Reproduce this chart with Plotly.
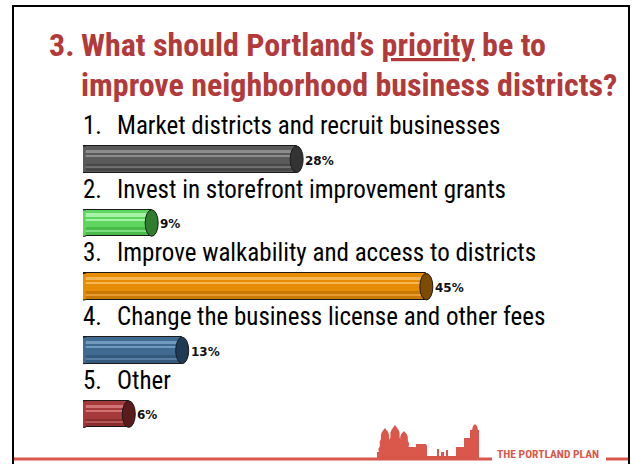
import plotly.graph_objects as go

# ---------------- data ----------------
numbers = ["1.", "2.", "3.", "4.", "5."]
labels = [
    "Market districts and recruit businesses",
    "Invest in storefront improvement grants",
    "Improve walkability and access to districts",
    "Change the business license and other fees",
    "Other",
]
values = [28, 9, 45, 13, 6]
value_text = ["28%", "9%", "45%", "13%", "6%"]

title_num = "3."
title_line1 = "What should Portland\u2019s <u>priority</u> be to"
title_line2 = "improve neighborhood business districts?"
brand = "THE PORTLAND PLAN"

# ---------------- styles ----------------
W, H = 632, 464
body_cols = ["#5a5a5a", "#5fd65f", "#e68c05", "#3f6a92", "#a63939"]
hi_cols = ["#8c8c8c", "#a6f2a6", "#f8b653", "#7199be", "#d27373"]
dark_cols = ["#474747", "#48bb48", "#c97800", "#33597c", "#8a2d2d"]
cap_cols = ["#333333", "#2f7d2f", "#7d4c00", "#1f3a55", "#5c1b1b"]
outline = "#1a1a1a"
red = "#b23a3a"
brand_red = "#d9574b"
NARROW = "Roboto Condensed, DejaVu Sans Condensed, sans-serif"

X0_PX, PX_PER = 83.0, 7.63
XMAX = 70
Y_TOP_PX, Y_STEP = 159.3, 63.7
BW = 0.416
CAP_HALF = 6.5 / PX_PER

def px(x, y):
    return x / W, 1 - y / H

idx = list(range(len(values)))
fig = go.Figure()

# cylinder bodies
fig.add_trace(go.Bar(
    x=values, y=idx, orientation="h", width=BW,
    marker=dict(color=body_cols, line=dict(color=outline, width=1)),
    hoverinfo="skip", showlegend=False))
# highlight stripes and shading bands
fig.add_trace(go.Bar(x=values, y=idx, orientation="h", width=0.05, offset=-0.15,
                     marker=dict(color=hi_cols, line=dict(width=0)), hoverinfo="skip", showlegend=False))
fig.add_trace(go.Bar(x=values, y=idx, orientation="h", width=0.025, offset=-0.06,
                     marker=dict(color=hi_cols, line=dict(width=0)), hoverinfo="skip", showlegend=False))
fig.add_trace(go.Bar(x=values, y=idx, orientation="h", width=0.12, offset=0.07,
                     marker=dict(color=dark_cols, line=dict(width=0)), hoverinfo="skip", showlegend=False))
fig.add_trace(go.Bar(x=values, y=idx, orientation="h", width=0.02, offset=0.12,
                     marker=dict(color=hi_cols, line=dict(width=0)), opacity=0.6,
                     hoverinfo="skip", showlegend=False))

shapes = []
annotations = []
for i, v in enumerate(values):
    top, bot = i - BW / 2, i + BW / 2
    k = CAP_HALF * 1.33
    # rounded left end
    shapes.append(dict(
        type="path", xref="x", yref="y", layer="above",
        path=f"M 0.35,{top} L 0,{top} C {-k},{top} {-k},{bot} 0,{bot} L 0.35,{bot}",
        fillcolor=body_cols[i], line=dict(color=outline, width=1)))
    # right end cap
    shapes.append(dict(
        type="circle", xref="x", yref="y", layer="above",
        x0=v - CAP_HALF, x1=v + CAP_HALF, y0=top, y1=bot,
        fillcolor=cap_cols[i], line=dict(color=outline, width=1)))
    annotations.append(dict(
        x=v + CAP_HALF, y=i + 0.02, xref="x", yref="y",
        text=f"<b>{value_text[i]}</b>", showarrow=False, xanchor="left", yanchor="middle",
        font=dict(family="DejaVu Sans", size=12, color="#111111")))
    annotations.append(dict(
        x=81 / W, y=i - 0.53, xref="paper", yref="y", text=numbers[i],
        showarrow=False, xanchor="left", yanchor="middle",
        font=dict(family=NARROW, size=25, color="#000000")))
    annotations.append(dict(
        x=115 / W, y=i - 0.53, xref="paper", yref="y", text=labels[i],
        showarrow=False, xanchor="left", yanchor="middle",
        font=dict(family=NARROW, size=25, color="#000000")))

# title
for txt, xx, yy in [(title_num, 47, 45), (title_line1, 79, 45), (title_line2, 79, 85)]:
    annotations.append(dict(
        x=xx / W, y=1 - yy / H, xref="paper", yref="paper", text=f"<b>{txt}</b>",
        showarrow=False, xanchor="left", yanchor="middle",
        font=dict(family=NARROW, size=32, color=red)))

# brand text
annotations.append(dict(
    x=495 / W, y=1 - 453.5 / H, xref="paper", yref="paper", text=f"<b>{brand}</b>",
    showarrow=False, xanchor="left", yanchor="middle",
    font=dict(family=NARROW, size=11.5, color=brand_red)))

# frame
for (xa, ya, xb, yb) in [(12, 6, 630, 6), (13, 6, 13, 464), (629, 6, 629, 464)]:
    a, b = px(xa, ya), px(xb, yb)
    shapes.append(dict(type="line", xref="paper", yref="paper", x0=a[0], y0=a[1], x1=b[0], y1=b[1],
                       line=dict(color="#000000", width=2)))
# bottom red line
for (xa, xb) in [(14, 492), (606, 628)]:
    a, b = px(xa, 459), px(xb, 459)
    shapes.append(dict(type="line", xref="paper", yref="paper", x0=a[0], y0=a[1], x1=b[0], y1=b[1],
                       line=dict(color=brand_red, width=3)))

# skyline silhouette (decorative)
def poly(points):
    pts = [px(x, y) for x, y in points]
    d = "M " + " L ".join(f"{x:.5f},{y:.5f}" for x, y in pts) + " Z"
    return dict(type="path", xref="paper", yref="paper", path=d, fillcolor=brand_red,
                line=dict(width=0), layer="above")

def tree(cx, top, base, half):
    pts = [(cx - 1, base)]
    steps = 4
    for s in range(steps, 0, -1):
        yy = top + (base - top) * s / steps
        w = half * (0.35 + 0.65 * s / steps)
        pts += [(cx - w, yy), (cx - w * 0.75, yy - 3)]
    pts += [(cx, top)]
    for s in range(1, steps + 1):
        yy = top + (base - top) * s / steps
        w = half * (0.35 + 0.65 * s / steps)
        pts += [(cx + w * 0.75, yy - 3), (cx + w, yy)]
    pts += [(cx + 1, base)]
    return poly(pts)

shapes.append(tree(385, 428, 456, 8))
shapes.append(tree(395, 425, 456, 9))
shapes.append(tree(404, 431, 456, 7.5))
shapes.append(poly([(377, 460), (377, 452), (411, 452), (411, 460)]))
shapes.append(poly([(408, 460), (408, 447), (416, 447), (416, 444), (426, 444), (427, 446), (427, 456),
                    (437, 456), (437, 449), (439, 449), (439, 456), (441, 456), (441, 452), (444, 452),
                    (444, 456), (446, 456), (446, 450), (448, 450), (448, 456), (456, 456), (456, 447),
                    (464, 447), (464, 438), (470, 438), (470, 430), (472, 430), (473, 426), (475, 424),
                    (477, 426), (478, 430), (479, 430), (479, 460)]))

fig.update_layout(
    width=W, height=H,
    margin=dict(l=0, r=0, t=0, b=0),
    paper_bgcolor="#ffffff", plot_bgcolor="rgba(0,0,0,0)",
    barmode="overlay", bargap=0,
    xaxis=dict(range=[0, XMAX], domain=[X0_PX / W, (X0_PX + XMAX * PX_PER) / W],
               visible=False, fixedrange=True),
    yaxis=dict(range=[(H - Y_TOP_PX) / Y_STEP, -Y_TOP_PX / Y_STEP], domain=[0, 1],
               visible=False, fixedrange=True),
    shapes=shapes, annotations=annotations,
    showlegend=False,
)

fig.write_html("out.html", config={"displayModeBar": False},
               post_script="document.body.style.margin='0px';")
